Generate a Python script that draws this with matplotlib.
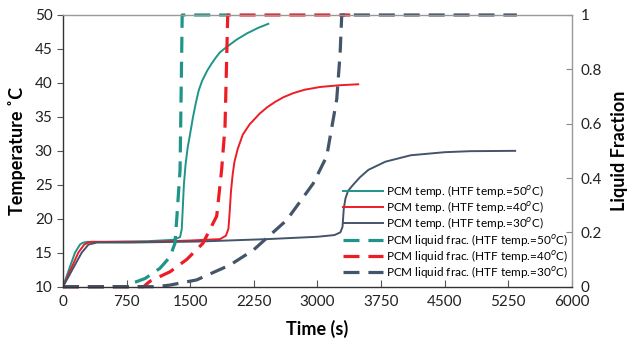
import matplotlib
matplotlib.use("Agg")
import matplotlib.pyplot as plt

plt.rcParams['font.family'] = ['Lato', 'DejaVu Sans']
plt.rcParams['mathtext.fontset'] = 'custom'
plt.rcParams['mathtext.rm'] = 'Lato'

# colours
teal = '#1f9488'
red = '#ee1c25'
navy = '#44546a'

# PCM temperature, HTF 50 C
t50 = [0, 70, 141, 200, 230, 283, 500, 1000, 1300, 1380, 1400, 1410, 1425, 1445, 1470,
       1500, 1530, 1565, 1600, 1640, 1700, 1750, 1800, 1850, 1930, 2050, 2170, 2300, 2420]
T50 = [10, 12.5, 15, 16.2, 16.45, 16.6, 16.6, 16.7, 16.9, 17.3, 18.5, 21, 25, 28, 30.5,
       32.6, 34.8, 37.0, 38.9, 40.3, 41.8, 42.8, 43.7, 44.5, 45.3, 46.4, 47.3, 48.1, 48.7]

# PCM temperature, HTF 40 C
t40 = [0, 90, 180, 250, 290, 330, 600, 1000, 1500, 1850, 1920, 1950, 1965, 1980, 2000,
       2020, 2060, 2120, 2200, 2320, 2405, 2500, 2600, 2715, 2850, 3030, 3250, 3480]
T40 = [10, 12.5, 15, 16.2, 16.45, 16.6, 16.6, 16.6, 16.8, 17.0, 17.5, 18.5, 21, 24, 26.5,
       28.3, 30.3, 32.4, 33.9, 35.5, 36.4, 37.2, 37.9, 38.5, 39.0, 39.4, 39.65, 39.8]

# PCM temperature, HTF 30 C
t30 = [0, 110, 220, 300, 350, 400, 800, 1600, 2400, 3000, 3200, 3270, 3295, 3310, 3330,
       3360, 3420, 3500, 3600, 3800, 4100, 4500, 4800, 5330]
T30 = [10, 12.5, 15, 16.2, 16.35, 16.5, 16.5, 16.65, 17.0, 17.35, 17.6, 18.0, 18.8, 21.5, 23.0,
       24.1, 25.0, 26.1, 27.2, 28.4, 29.35, 29.8, 29.95, 30.0]

# liquid fraction
ft50 = [0, 800, 810, 967, 1144, 1262, 1320, 1340, 1380, 1400, 1405, 1950]
f50 = [0, 0, 0.012, 0.03, 0.068, 0.11, 0.16, 0.245, 0.43, 0.88, 1, 1]
ft40 = [0, 950, 1025, 1262, 1458, 1650, 1812, 1870, 1910, 1942, 3385]
f40 = [0, 0, 0.02, 0.055, 0.1, 0.16, 0.26, 0.43, 0.59, 1, 1]
ft30 = [0, 1100, 1262, 1576, 1970, 2245, 2637, 2950, 3109, 3227, 3267, 3286, 5350]
f30 = [0, 0, 0.006, 0.025, 0.08, 0.135, 0.245, 0.38, 0.48, 0.69, 0.86, 1, 1]

xticks = [0, 750, 1500, 2250, 3000, 3750, 4500, 5250, 6000]

fig = plt.figure(figsize=(6.28, 3.47), dpi=100)
ax = fig.add_axes([0.1003, 0.1738, 0.8105, 0.783])
ax2 = ax.twinx()

lw = 1.4
l1, = ax.plot(t50, T50, color=teal, lw=lw, label='PCM temp. (HTF temp.=50$^{o}$C)')
l2, = ax.plot(t40, T40, color=red, lw=lw, label='PCM temp. (HTF temp.=40$^{o}$C)')
l3, = ax.plot(t30, T30, color=navy, lw=lw, label='PCM temp. (HTF temp.=30$^{o}$C)')

dlw = 2.3
dash = (5.0, 2.8)
d1, = ax2.plot(ft50, f50, color=teal, lw=dlw, dashes=dash, clip_on=False,
               label='PCM liquid frac. (HTF temp.=50$^{o}$C)')
d2, = ax2.plot(ft40, f40, color=red, lw=dlw, dashes=dash, clip_on=False,
               label='PCM liquid frac. (HTF temp.=40$^{o}$C)')
d3, = ax2.plot(ft30, f30, color=navy, lw=dlw, dashes=dash, clip_on=False,
               label='PCM liquid frac. (HTF temp.=30$^{o}$C)')

ax.set_xlim(0, 6000)
ax.set_ylim(10, 50)
ax2.set_ylim(0, 1)
ax.set_xticks(xticks)
ax.set_yticks(range(10, 51, 5))
ax2.set_yticks([0, 0.2, 0.4, 0.6, 0.8, 1])
ax2.set_yticklabels(['0', '0.2', '0.4', '0.6', '0.8', '1'])

ax.tick_params(axis='x', direction='in', length=5, color='#555555', labelsize=11, labelcolor='#222222', pad=6)
ax.tick_params(axis='y', direction='out', length=4, color='#555555', labelsize=11, labelcolor='#222222')
ax2.tick_params(axis='y', direction='in', length=4, color='#888888', labelsize=11, labelcolor='#222222', pad=6)

for s in ['left', 'bottom']:
    ax2.spines[s].set_color('#333333')
for s in ['top', 'right']:
    ax2.spines[s].set_color('#999999')
for s in ax.spines.values():
    s.set_visible(False)
for sp in ax2.spines.values():
    sp.set_linewidth(1.0)

ax.set_xlabel('Time (s)', fontsize=13, fontweight='bold', labelpad=8)
ax.set_ylabel('Temperature ˚C', fontsize=13, fontweight='bold', labelpad=6)
ax2.set_ylabel('Liquid Fraction', fontsize=13, fontweight='bold', labelpad=7)

leg = ax2.legend(handles=[l1, l2, l3, d1, d2, d3], loc='lower right',
                 bbox_to_anchor=(1.006, 0.0), frameon=False, fontsize=8.5,
                 handlelength=3.4, handletextpad=0.3, labelspacing=0.02,
                 borderaxespad=0.15)

fig.savefig('out.png', dpi=100)
